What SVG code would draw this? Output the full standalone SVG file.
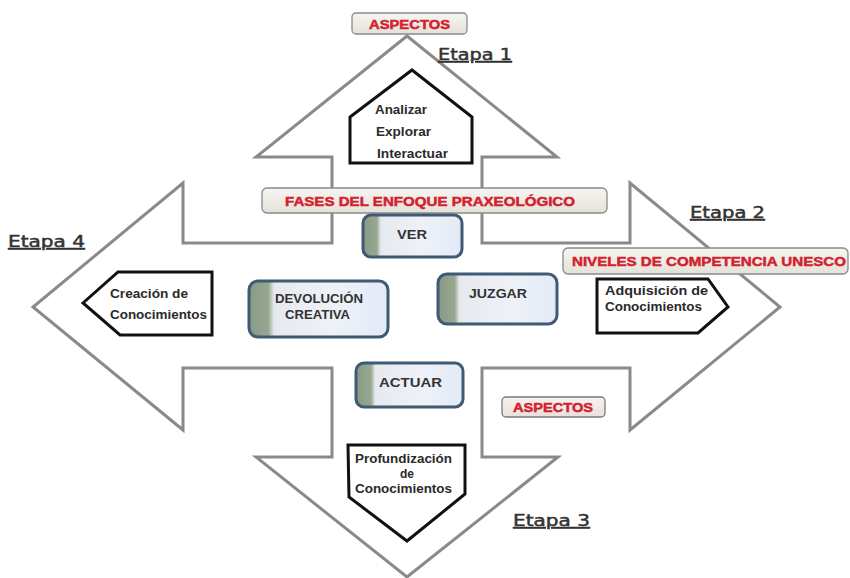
<svg xmlns="http://www.w3.org/2000/svg" width="850" height="578" viewBox="0 0 850 578">
<defs>
<linearGradient id="phaseFill" x1="0" y1="0" x2="1" y2="0">
<stop offset="0" stop-color="#879a83"/>
<stop offset="0.14" stop-color="#97a891"/>
<stop offset="0.18" stop-color="#e6e9ee"/>
<stop offset="0.6" stop-color="#eef1f7"/>
<stop offset="1" stop-color="#e3eaf7"/>
</linearGradient>
<linearGradient id="labelFill" x1="0" y1="0" x2="0" y2="1">
<stop offset="0" stop-color="#f6f5f1"/>
<stop offset="1" stop-color="#e4e1d8"/>
</linearGradient>
<linearGradient id="labelFillPink" x1="0" y1="0" x2="0" y2="1">
<stop offset="0" stop-color="#f8f2f0"/>
<stop offset="1" stop-color="#e8e0dc"/>
</linearGradient>
</defs>
<style>
.cross{fill:#ffffff;stroke:#8a8a8a;stroke-width:3;stroke-linejoin:miter}
.tag{fill:#ffffff;stroke:#111111;stroke-width:3;stroke-linejoin:miter}
.phase{fill:url(#phaseFill);stroke:#3e5a74;stroke-width:3}
.lbl{fill:url(#labelFill);stroke:#8a8a8a;stroke-width:1.3}
.lblp{fill:url(#labelFillPink);stroke:#7a7a7a;stroke-width:1.3}
.red{font-family:"Liberation Sans",Arial,sans-serif;font-weight:bold;fill:#d3202c;stroke:#d3202c;stroke-width:0.45;font-size:12.5px}
.ph{font-family:"Liberation Sans",Arial,sans-serif;font-weight:bold;fill:#333333;font-size:13px}
.tt{font-family:"Liberation Sans",Arial,sans-serif;font-weight:bold;fill:#2a2a2a;font-size:12px}
.et{font-family:"DejaVu Sans","Liberation Sans",sans-serif;fill:#333333;stroke:#333333;stroke-width:0.5;font-size:16.5px;text-decoration:underline}
</style>
<rect width="850" height="578" fill="#ffffff"/>

<g id="cross-arrow">
<path class="cross" d="M407,36 L557,157 L482,157 L482,243 L630,243 L630,183 L780,307 L630,430 L630,368 L482,368 L482,457 L558,457 L407,577 L256,457 L332,457 L332,368 L183,368 L183,430 L33,307 L183,183 L183,243 L332,243 L332,157 L256,157 Z"/>
</g>

<g id="connectors"></g>

<g id="aspectos-top">
<rect class="lbl" x="352" y="13" width="115" height="21" rx="4"/>
<text class="red" x="409.5" y="28.5" text-anchor="middle" textLength="81" lengthAdjust="spacingAndGlyphs">ASPECTOS</text>
</g>

<g id="etapa1">
<text class="et" x="438" y="60" textLength="74" lengthAdjust="spacingAndGlyphs">Etapa 1</text>
</g>
<g id="etapa2">
<text class="et" x="690" y="218" textLength="75" lengthAdjust="spacingAndGlyphs">Etapa 2</text>
</g>
<g id="etapa3">
<text class="et" x="513" y="526" textLength="77" lengthAdjust="spacingAndGlyphs">Etapa 3</text>
</g>
<g id="etapa4">
<text class="et" x="8" y="247" textLength="77" lengthAdjust="spacingAndGlyphs">Etapa 4</text>
</g>

<g id="house-etapa1">
<path class="tag" d="M412,70 L472,117 L472,163 L350,163 L350,117 Z"/>
<text class="tt" x="375" y="114" textLength="52" lengthAdjust="spacingAndGlyphs">Analizar</text>
<text class="tt" x="376" y="136" textLength="55" lengthAdjust="spacingAndGlyphs">Explorar</text>
<text class="tt" x="377" y="158" textLength="71" lengthAdjust="spacingAndGlyphs">Interactuar</text>
</g>

<g id="fases">
<rect class="lbl" x="262" y="188" width="345" height="25" rx="5"/>
<text class="red" x="285" y="205.5" textLength="290" lengthAdjust="spacingAndGlyphs">FASES DEL ENFOQUE PRAXEOLÓGICO</text>
</g>

<g id="niveles">
<rect class="lbl" x="563" y="248" width="285" height="26" rx="5"/>
<text class="red" x="572" y="266" textLength="274" lengthAdjust="spacingAndGlyphs">NIVELES DE COMPETENCIA UNESCO</text>
</g>

<g id="ver">
<rect class="phase" x="363" y="215" width="99" height="42" rx="8"/>
<text class="ph" x="412" y="239" text-anchor="middle" textLength="30" lengthAdjust="spacingAndGlyphs">VER</text>
</g>

<g id="devolucion">
<rect class="phase" x="249" y="281" width="139" height="56" rx="9"/>
<text class="ph" x="275" y="303" textLength="88" lengthAdjust="spacingAndGlyphs">DEVOLUCIÓN</text>
<text class="ph" x="285" y="319" textLength="65" lengthAdjust="spacingAndGlyphs">CREATIVA</text>
</g>

<g id="juzgar">
<rect class="phase" x="438" y="274" width="119" height="50" rx="9"/>
<text class="ph" x="469" y="298" textLength="58" lengthAdjust="spacingAndGlyphs">JUZGAR</text>
</g>

<g id="actuar">
<rect class="phase" x="356" y="363" width="107" height="44" rx="8"/>
<text class="ph" x="379" y="387" textLength="63" lengthAdjust="spacingAndGlyphs">ACTUAR</text>
</g>

<g id="aspectos-bottom">
<rect class="lblp" x="502" y="397" width="103" height="20" rx="4"/>
<text class="red" x="553" y="412" text-anchor="middle" textLength="80" lengthAdjust="spacingAndGlyphs">ASPECTOS</text>
</g>

<g id="creacion-etapa4">
<path class="tag" d="M83,303 L118,272 L212,272 L212,335 L120,335 Z"/>
<text class="tt" x="110" y="298" textLength="78" lengthAdjust="spacingAndGlyphs">Creación de</text>
<text class="tt" x="110" y="319" textLength="97" lengthAdjust="spacingAndGlyphs">Conocimientos</text>
</g>

<g id="adquisicion-etapa2">
<path class="tag" d="M597,279 L708,279 L728,307 L698,333 L597,333 Z"/>
<text class="tt" x="605" y="295" textLength="103" lengthAdjust="spacingAndGlyphs">Adquisición de</text>
<text class="tt" x="605" y="311" textLength="97" lengthAdjust="spacingAndGlyphs">Conocimientos</text>
</g>

<g id="profundizacion-etapa3">
<path class="tag" d="M348,445 L465,445 L465,494 L407,541 L349,497 Z"/>
<text class="tt" x="355" y="463" textLength="97" lengthAdjust="spacingAndGlyphs">Profundización</text>
<text class="tt" x="407" y="478" text-anchor="middle">de</text>
<text class="tt" x="355" y="493" textLength="97" lengthAdjust="spacingAndGlyphs">Conocimientos</text>
</g>
</svg>
